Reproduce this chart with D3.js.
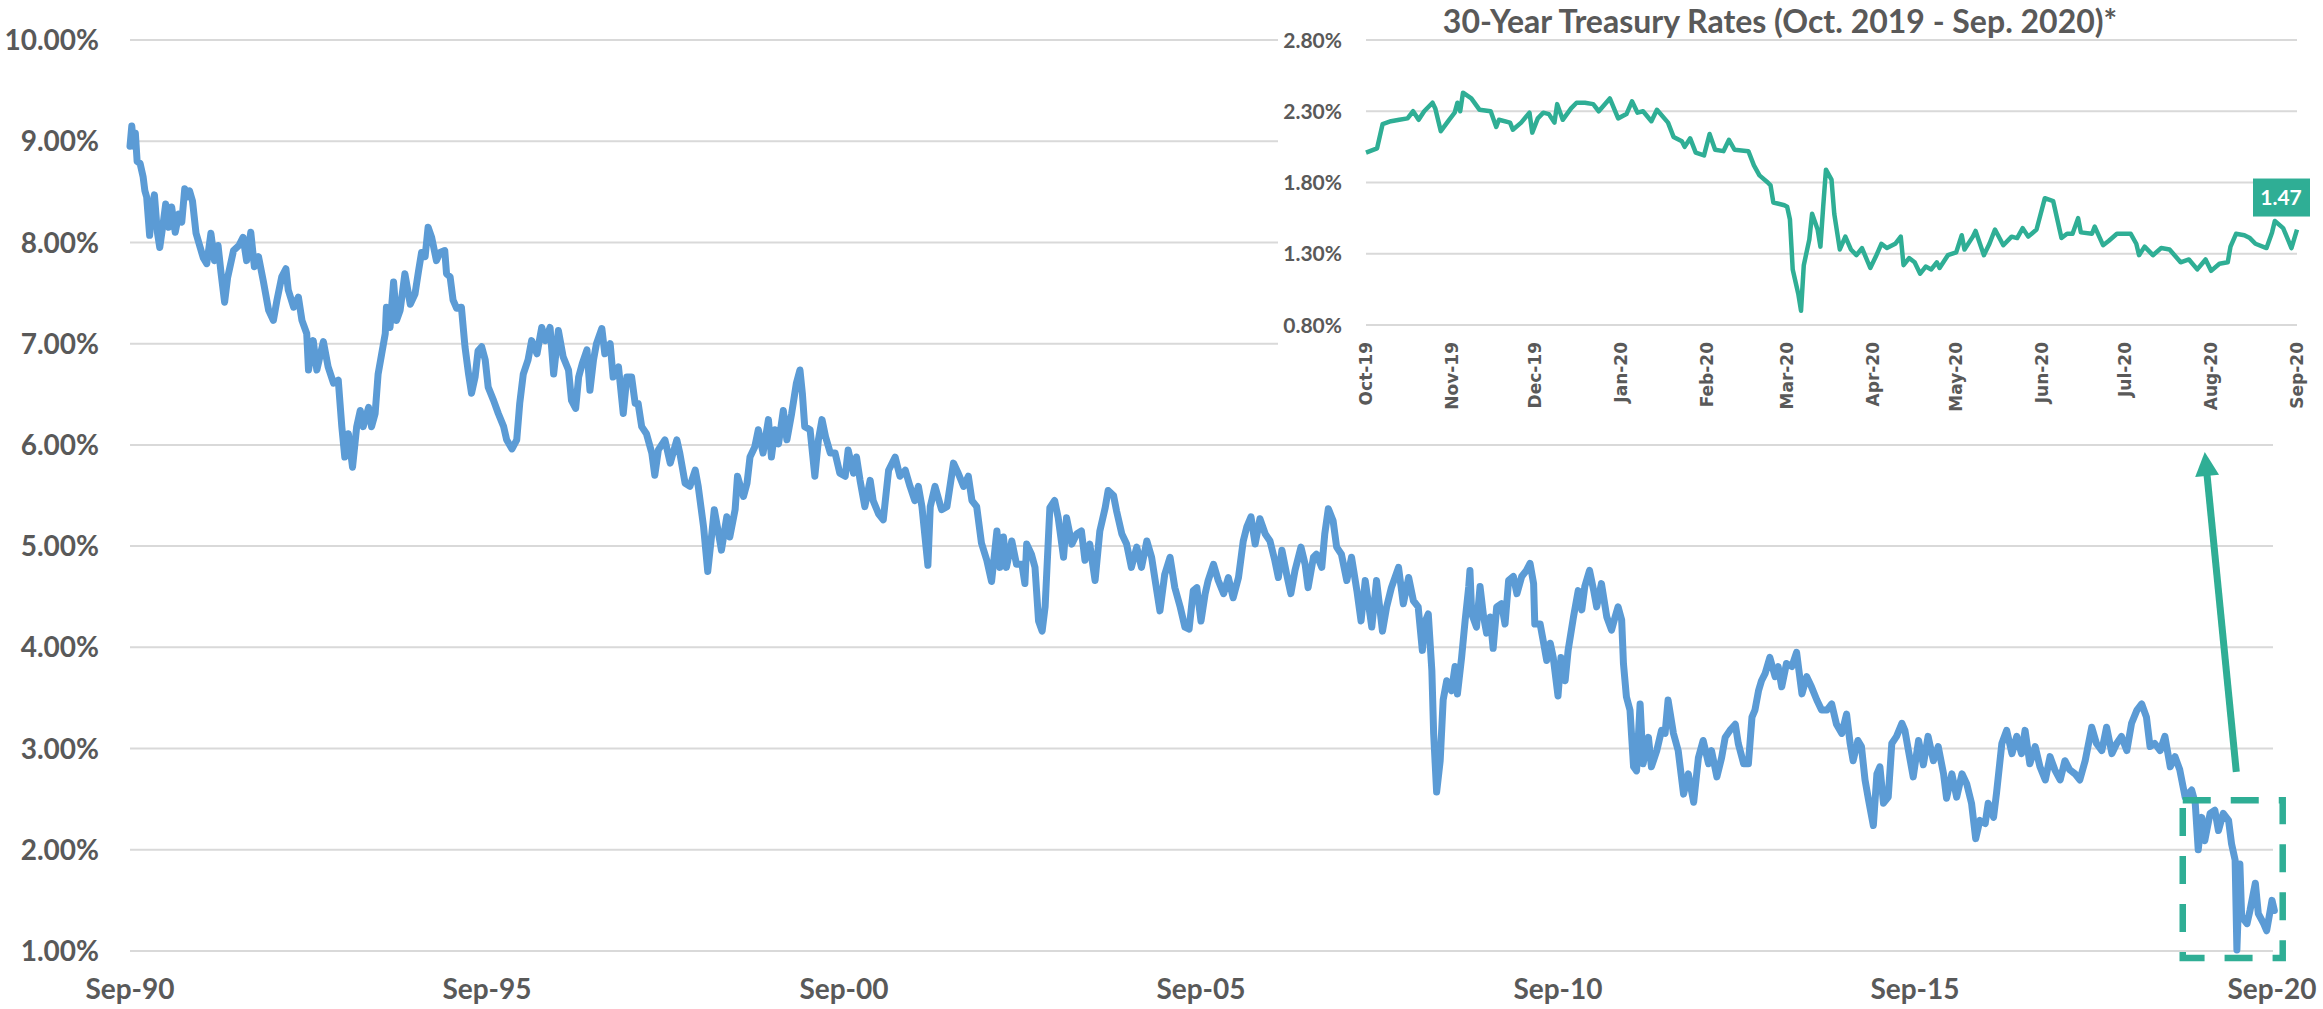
<!DOCTYPE html>
<html>
<head>
<meta charset="utf-8">
<style>
  body { margin: 0; background: #fff; }
  svg { display: block; font-family: Lato, 'Liberation Sans', sans-serif; }
  .lbl { fill: #595959; font-weight: 700; }
  .grid { stroke: #d9d9d9; stroke-width: 2; }
</style>
</head>
<body>
<svg width="2323" height="1009"></svg>

<script src="https://d3js.org/d3.v7.min.js"></script>
<script>
// ---- main chart: 30-year treasury yield, [months since Sep-90, yield %] ----
const yields1990s = [[0,8.95],[0.3,9.15],[0.6,8.95],[0.9,9.08],[1.2,8.80],[1.7,8.78],[2.2,8.65],[2.5,8.51],[2.8,8.45],[3.3,8.07],[3.6,8.30],[4.1,8.47],[4.6,8.10],[5.0,7.95],[5.6,8.20],[6.0,8.38],[6.5,8.15],[7.0,8.35],[7.6,8.10],[8.2,8.28],[8.7,8.20],[9.2,8.53],[9.6,8.45],[10.0,8.51],[10.5,8.41],[11.1,8.09],[11.8,7.95],[12.3,7.85],[12.9,7.79],[13.6,8.09],[14.2,7.82],[14.8,7.97],[15.3,7.70],[15.9,7.41],[16.4,7.65],[17.4,7.92],[18.3,7.97],[19.0,8.05],[19.6,7.82],[20.3,8.10],[20.9,7.76],[21.6,7.86],[22.4,7.62],[23.3,7.33],[24.1,7.23],[24.7,7.43],[25.5,7.66],[26.2,7.74],[26.6,7.53],[27.5,7.36],[28.3,7.46],[28.9,7.23],[29.7,7.10],[30.0,6.74],[30.8,7.03],[31.4,6.74],[32.5,7.02],[33.3,6.77],[34.2,6.61],[35.0,6.64],[35.6,6.18],[36.1,5.88],[36.7,6.11],[37.4,5.78],[38.1,6.18],[38.7,6.34],[39.2,6.18],[40.1,6.37],[40.6,6.18],[41.2,6.31],[41.7,6.70],[42.3,6.90],[42.9,7.10],[43.1,7.36],[43.7,7.16],[44.3,7.61],[44.8,7.23],[45.4,7.33],[46.2,7.69],[47.1,7.39],[47.9,7.49],[48.5,7.72],[49.0,7.90],[49.6,7.86],[50.1,8.15],[50.7,8.05],[51.5,7.82],[52.1,7.90],[52.9,7.92],[53.2,7.69],[53.8,7.66],[54.3,7.43],[54.9,7.35],[55.7,7.36],[56.3,6.97],[56.9,6.70],[57.4,6.51],[58.0,6.67],[58.5,6.93],[59.1,6.97],[59.7,6.84],[60.2,6.57],[61.1,6.44],[61.9,6.31],[62.8,6.18],[63.3,6.05],[64.2,5.96],[65.0,6.05],[65.5,6.41],[66.1,6.70],[66.9,6.84],[67.5,7.03],[68.4,6.90],[69.2,7.16],[69.8,7.03],[70.6,7.16],[71.2,6.70],[72.0,7.13],[72.8,6.87],[73.7,6.74],[74.2,6.44],[74.9,6.36],[75.4,6.67],[76.0,6.80],[76.8,6.94],[77.3,6.54],[77.9,6.84],[78.4,7.00],[79.3,7.15],[79.8,6.90],[80.7,7.00],[81.2,6.67],[82.1,6.77],[82.9,6.31],[83.5,6.67],[84.3,6.67],[84.9,6.41],[85.4,6.41],[86.0,6.18],[86.8,6.11],[87.7,5.92],[88.2,5.70],[88.8,5.95],[89.9,6.05],[90.8,5.82],[91.9,6.05],[92.4,5.92],[93.3,5.62],[94.1,5.59],[95.0,5.75],[95.5,5.59],[96.4,5.19],[97.1,4.75],[97.8,5.13],[98.2,5.36],[98.9,5.13],[99.4,4.96],[100.3,5.29],[100.8,5.09],[101.7,5.36],[102.1,5.69],[103.1,5.49],[103.7,5.62],[104.2,5.88],[105.0,5.98],[105.6,6.15],[106.4,5.92],[107.3,6.25],[107.8,5.88],[108.4,6.15],[109.0,6.01],[109.8,6.34],[110.4,6.05],[111.2,6.31],[112.0,6.61]];

const yields2000s = [[112.6,6.74],[113.0,6.51],[113.4,6.18],[114.3,6.15],[115.1,5.69],[115.7,6.05],[116.3,6.25],[116.9,6.08],[117.7,5.92],[118.5,5.92],[119.3,5.72],[120.2,5.69],[120.7,5.95],[121.6,5.72],[122.1,5.88],[122.7,5.65],[123.5,5.39],[124.4,5.65],[124.9,5.45],[125.8,5.32],[126.6,5.26],[127.5,5.75],[128.6,5.88],[129.4,5.69],[130.3,5.75],[131.1,5.59],[131.9,5.45],[132.5,5.59],[133.1,5.39],[134.1,4.81],[134.5,5.39],[135.3,5.59],[136.4,5.36],[137.3,5.39],[138.4,5.82],[139.2,5.72],[140.1,5.59],[140.9,5.69],[141.5,5.45],[142.3,5.39],[143.1,5.03],[144.0,4.86],[144.8,4.65],[145.7,5.15],[146.2,4.79],[146.8,5.09],[147.3,4.79],[148.2,5.05],[149.0,4.82],[149.9,4.82],[150.4,4.63],[150.7,5.02],[151.5,4.92],[152.1,4.79],[152.7,4.26],[153.3,4.16],[153.8,4.40],[154.6,5.38],[155.4,5.45],[156.0,5.28],[156.9,4.89],[157.4,5.28],[158.3,5.02],[159.1,5.12],[159.9,5.15],[160.5,4.86],[161.3,5.02],[162.2,4.66],[163.0,5.15],[163.9,5.38],[164.4,5.55],[165.3,5.50],[165.8,5.35],[166.7,5.12],[167.5,5.02],[168.3,4.79],[169.2,4.99],[170.0,4.79],[170.9,5.05],[171.7,4.89],[172.3,4.66],[173.1,4.36],[173.9,4.72],[174.8,4.89],[175.6,4.59],[176.5,4.40],[177.3,4.20],[178.0,4.18],[178.7,4.56],[179.3,4.59],[180.0,4.26],[180.7,4.53],[181.2,4.66],[182.1,4.82],[182.9,4.66],[183.8,4.53],[184.6,4.69],[185.4,4.49],[186.3,4.69],[187.1,5.05],[187.7,5.19],[188.4,5.29],[189.1,5.02],[189.9,5.27],[190.8,5.12],[191.6,5.05],[192.4,4.86],[193.0,4.69],[193.6,4.96],[194.4,4.72],[195.1,4.53],[195.8,4.76],[196.8,4.99],[197.5,4.82],[198.0,4.59],[198.9,4.89],[199.4,4.92],[200.3,4.79],[200.8,5.12],[201.4,5.37],[202.2,5.25],[202.8,4.99],[203.6,4.92],[204.5,4.66],[205.3,4.89],[206.2,4.56],[206.9,4.26],[207.6,4.66],[208.7,4.20],[209.5,4.66],[210.5,4.16],[211.2,4.40],[212.0,4.59],[213.2,4.79],[214.0,4.43],[214.9,4.69],[215.7,4.46],[216.5,4.40],[217.2,3.97],[217.7,4.26],[218.2,4.33],[218.8,3.77],[219.1,3.15],[219.6,2.57],[220.2,2.88],[220.7,3.48],[221.3,3.67],[222.1,3.57],[222.7,3.81],[223.1,3.54],[223.8,3.90],[224.4,4.27],[225.0,4.60],[225.2,4.76],[225.5,4.33],[226.3,4.20],[226.9,4.60],[227.5,4.30],[228.0,4.14],[228.6,4.30],[229.1,3.99],[229.7,4.40],[230.5,4.43],[231.1,4.23],[231.7,4.66]];

const yields2010s = [[232.5,4.70],[233.1,4.53],[233.9,4.70],[234.7,4.76],[235.3,4.83],[235.9,4.63],[236.1,4.23],[237.0,4.23],[237.5,4.07],[238.1,3.87],[238.7,4.04],[239.2,3.90],[240.0,3.52],[240.5,3.90],[241.2,3.67],[241.7,3.97],[242.6,4.30],[243.4,4.56],[244.0,4.37],[244.5,4.60],[245.3,4.76],[246.0,4.56],[246.5,4.40],[247.3,4.63],[248.2,4.30],[249.0,4.17],[249.6,4.30],[250.1,4.40],[250.7,4.27],[251.0,3.84],[251.5,3.51],[252.1,3.38],[252.7,2.82],[253.2,2.78],[253.8,3.44],[254.3,2.85],[255.2,3.11],[255.7,2.82],[256.6,2.98],[257.4,3.18],[258.0,3.15],[258.5,3.48],[259.4,3.15],[260.2,2.98],[261.1,2.55],[261.9,2.75],[262.8,2.47],[263.6,2.91],[264.4,3.08],[265.3,2.85],[265.8,2.98],[266.7,2.72],[267.5,2.91],[268.1,3.11],[268.9,3.18],[269.8,3.24],[270.3,3.05],[271.2,2.85],[272.0,2.85],[272.6,3.31],[273.1,3.38],[273.7,3.57],[274.2,3.67],[274.8,3.74],[275.6,3.90],[276.5,3.71],[277.0,3.81],[277.6,3.61],[278.4,3.84],[279.3,3.81],[280.1,3.95],[281.0,3.54],[281.8,3.71],[282.6,3.61],[283.5,3.48],[284.3,3.38],[285.2,3.38],[286.0,3.44],[286.8,3.24],[287.7,3.15],[288.5,3.34],[289.1,3.05],[289.6,2.88],[290.4,3.08],[291.0,3.02],[291.6,2.69],[292.2,2.49],[293.0,2.24],[293.6,2.75],[294.1,2.82],[294.7,2.46],[295.5,2.52],[296.1,3.05],[296.9,3.12],[297.8,3.25],[298.3,3.18],[298.9,2.98],[299.7,2.72],[300.6,3.08],[301.4,2.84],[302.2,3.12],[303.1,2.88],[303.9,3.02],[304.8,2.75],[305.3,2.51],[306.2,2.75],[307.0,2.52],[307.9,2.75],[308.7,2.65],[309.5,2.46],[310.2,2.11],[310.9,2.29],[311.8,2.26],[312.3,2.46],[313.2,2.32],[313.7,2.56],[314.6,3.05],[315.4,3.18],[316.3,2.95],[317.1,3.12],[317.9,2.95],[318.5,3.18],[319.3,2.85],[320.2,3.02],[321.0,2.82],[321.9,2.69],[322.7,2.92],[323.5,2.79],[324.4,2.69],[325.2,2.88],[326.0,2.79],[326.9,2.75],[327.7,2.69],[328.6,2.88],[329.7,3.21],[330.5,3.05],[331.4,2.98],[332.2,3.21],[333.1,2.95],[333.9,3.05],[334.7,3.12],[335.6,2.98],[336.4,3.25],[337.3,3.38],[338.1,3.44],[338.9,3.31],[339.5,3.02],[340.3,3.05],[341.2,2.98],[342.0,3.12],[342.9,2.82],[343.7,2.92],[344.5,2.79],[345.4,2.52],[346.5,2.59],[347.1,2.46],[347.6,2.00],[348.2,2.32],[348.7,2.09],[349.6,2.36],[350.4,2.39],[351.0,2.19],[351.8,2.36],[352.7,2.29],[353.2,2.06],[353.8,1.90],[354.1,1.01],[354.6,1.86],[354.9,1.34],[355.8,1.27],[356.3,1.40],[357.2,1.67],[357.7,1.37],[358.6,1.27],[359.1,1.20],[360.0,1.50],[360.4,1.40]];

const mainYTicks = [1, 2, 3, 4, 5, 6, 7, 8, 9, 10];
const mainXTicks = [0, 60, 120, 180, 240, 300, 360];
const mainXLabels = ["Sep-90", "Sep-95", "Sep-00", "Sep-05", "Sep-10", "Sep-15", "Sep-20"];

// ---- inset: Oct 2019 - Sep 2020 ----
const insetYields = [["2019-10-01",2.01],["2019-10-05",2.04],["2019-10-07",2.21],["2019-10-10",2.23],["2019-10-13",2.24],["2019-10-16",2.25],["2019-10-18",2.30],["2019-10-20",2.24],["2019-10-22",2.30],["2019-10-25",2.36],["2019-10-26",2.32],["2019-10-28",2.16],["2019-10-31",2.24],["2019-11-02",2.29],["2019-11-03",2.36],["2019-11-04",2.30],["2019-11-05",2.43],["2019-11-08",2.39],["2019-11-11",2.31],["2019-11-15",2.30],["2019-11-17",2.19],["2019-11-18",2.24],["2019-11-22",2.22],["2019-11-23",2.17],["2019-11-26",2.22],["2019-11-29",2.29],["2019-11-30",2.15],["2019-12-02",2.25],["2019-12-04",2.29],["2019-12-06",2.28],["2019-12-08",2.22],["2019-12-09",2.35],["2019-12-11",2.24],["2019-12-14",2.32],["2019-12-16",2.36],["2019-12-19",2.36],["2019-12-22",2.35],["2019-12-24",2.30],["2019-12-28",2.39],["2019-12-31",2.25],["2020-01-03",2.28],["2020-01-05",2.37],["2020-01-07",2.29],["2020-01-09",2.30],["2020-01-12",2.23],["2020-01-14",2.31],["2020-01-18",2.22],["2020-01-20",2.12],["2020-01-23",2.09],["2020-01-24",2.05],["2020-01-26",2.11],["2020-01-28",2.01],["2020-01-31",1.99],["2020-02-02",2.14],["2020-02-04",2.03],["2020-02-07",2.02],["2020-02-09",2.10],["2020-02-11",2.03],["2020-02-16",2.02],["2020-02-18",1.92],["2020-02-20",1.85],["2020-02-23",1.80],["2020-02-24",1.78],["2020-02-25",1.66],["2020-02-29",1.64],["2020-03-01",1.63],["2020-03-02",1.54],["2020-03-03",1.19],["2020-03-05",1.02],["2020-03-06",0.90],["2020-03-07",1.22],["2020-03-09",1.40],["2020-03-10",1.58],["2020-03-12",1.47],["2020-03-13",1.35],["2020-03-14",1.63],["2020-03-15",1.89],["2020-03-17",1.82],["2020-03-18",1.58],["2020-03-20",1.33],["2020-03-22",1.42],["2020-03-24",1.33],["2020-03-26",1.29],["2020-03-28",1.34],["2020-03-31",1.20],["2020-04-02",1.28],["2020-04-04",1.37],["2020-04-06",1.34],["2020-04-09",1.37],["2020-04-11",1.42],["2020-04-12",1.22],["2020-04-14",1.27],["2020-04-16",1.24],["2020-04-18",1.16],["2020-04-20",1.21],["2020-04-22",1.19],["2020-04-24",1.24],["2020-04-25",1.20],["2020-04-28",1.29],["2020-05-01",1.31],["2020-05-03",1.43],["2020-05-04",1.33],["2020-05-07",1.42],["2020-05-08",1.46],["2020-05-11",1.29],["2020-05-13",1.37],["2020-05-15",1.47],["2020-05-18",1.36],["2020-05-21",1.42],["2020-05-23",1.41],["2020-05-25",1.48],["2020-05-27",1.42],["2020-05-30",1.47],["2020-06-02",1.69],["2020-06-05",1.67],["2020-06-08",1.41],["2020-06-10",1.44],["2020-06-12",1.44],["2020-06-14",1.55],["2020-06-15",1.45],["2020-06-19",1.44],["2020-06-20",1.49],["2020-06-23",1.36],["2020-06-25",1.39],["2020-06-28",1.44],["2020-07-01",1.44],["2020-07-03",1.44],["2020-07-05",1.37],["2020-07-06",1.29],["2020-07-08",1.35],["2020-07-11",1.29],["2020-07-14",1.34],["2020-07-17",1.33],["2020-07-21",1.24],["2020-07-24",1.26],["2020-07-27",1.19],["2020-07-30",1.26],["2020-08-01",1.18],["2020-08-04",1.23],["2020-08-07",1.24],["2020-08-08",1.35],["2020-08-10",1.44],["2020-08-13",1.43],["2020-08-15",1.41],["2020-08-17",1.37],["2020-08-21",1.34],["2020-08-23",1.45],["2020-08-24",1.53],["2020-08-27",1.48],["2020-08-30",1.34],["2020-09-01",1.47]];

const insetYTicks = [0.8, 1.3, 1.8, 2.3, 2.8];
const insetTitle = "30-Year Treasury Rates (Oct. 2019 - Sep. 2020)*";

// highlighted window on main chart, in data units
const highlightMonths = [345, 361.8];
const highlightYields = [0.93, 2.49];
// arrow from the box up to the inset, [months, yield]
const arrowFrom = [354, 2.77];
const arrowTo = [348.7, 5.93];

const blue = "#5b9bd5";
const teal = "#2fae95";

let svg = d3.select("svg");

let x = d3.scaleLinear().domain([0, 360]).range([130, 2272]);
let y = d3.scaleLinear().domain([1, 10]).range([951, 40]);

// gridlines
svg.append("g")
    .selectAll("line")
    .data(mainYTicks)
    .join("line")
    .attr("class", "grid")
    .attr("x1", 130)
    .attr("x2", 2273)
    .attr("y1", d => y(d))
    .attr("y2", d => y(d));

// y labels
svg.append("g")
    .selectAll("text")
    .data(mainYTicks)
    .join("text")
    .attr("class", "lbl")
    .attr("x", 99)
    .attr("y", d => y(d))
    .attr("dy", "0.36em")
    .attr("text-anchor", "end")
    .style("font-size", "28px")
    .text(d => d3.format(".2f")(d) + "%");

// x labels
svg.append("g")
    .selectAll("text")
    .data(mainXTicks)
    .join("text")
    .attr("class", "lbl")
    .attr("x", d => x(d))
    .attr("y", 999)
    .attr("text-anchor", "middle")
    .style("font-size", "28px")
    .text((d, i) => mainXLabels[i]);

let mainData = yields1990s.concat(yields2000s, yields2010s);

let line = d3.line()
    .x(d => x(d[0]))
    .y(d => y(d[1]));

svg.append("path")
    .datum(mainData)
    .attr("d", line)
    .style("fill", "none")
    .style("stroke", blue)
    .style("stroke-width", 7)
    .style("stroke-linejoin", "round")
    .style("stroke-linecap", "round");

// ---- inset ----
let parse = d3.timeParse("%Y-%m-%d");
let insetData = insetYields.map(d => [parse(d[0]), d[1]]);

let xi = d3.scaleTime()
    .domain([parse("2019-10-01"), parse("2020-09-01")])
    .range([1366, 2297]);
let yi = d3.scaleLinear().domain([0.8, 2.8]).range([325, 40]);

let inset = svg.append("g");

inset.append("rect")
    .attr("x", 1278)
    .attr("y", 0)
    .attr("width", 1045)
    .attr("height", 430)
    .style("fill", "#fff");

inset.append("g")
    .selectAll("line")
    .data(insetYTicks)
    .join("line")
    .attr("class", "grid")
    .attr("x1", 1366)
    .attr("x2", 2297)
    .attr("y1", d => yi(d))
    .attr("y2", d => yi(d));

inset.append("g")
    .selectAll("text")
    .data(insetYTicks)
    .join("text")
    .attr("class", "lbl")
    .attr("x", 1342)
    .attr("y", d => yi(d))
    .attr("dy", "0.36em")
    .attr("text-anchor", "end")
    .style("font-size", "21px")
    .text(d => d3.format(".2f")(d) + "%");

let months = d3.timeMonth.range(parse("2019-10-01"), parse("2020-09-02"));

inset.append("g")
    .selectAll("text")
    .data(months)
    .join("text")
    .attr("class", "lbl")
    .attr("transform", d => "translate(" + xi(d) + ",342) rotate(-90)")
    .attr("dy", "0.36em")
    .attr("text-anchor", "end")
    .style("font-family", "'DejaVu Sans', sans-serif")
    .style("font-size", "17px")
    .text(d => d3.timeFormat("%b-%y")(d));

inset.append("text")
    .attr("class", "lbl")
    .attr("x", 1780)
    .attr("y", 33)
    .attr("text-anchor", "middle")
    .style("font-size", "32px")
    .text(insetTitle);

inset.append("path")
    .datum(insetData)
    .attr("d", d3.line().x(d => xi(d[0])).y(d => yi(d[1])))
    .style("fill", "none")
    .style("stroke", teal)
    .style("stroke-width", 4.5)
    .style("stroke-linejoin", "round");

// last value badge
let last = insetData[insetData.length - 1];
let bx = xi(last[0]) - 16;
let by = yi(last[1]) - 32;
inset.append("rect")
    .attr("x", bx - 28)
    .attr("y", by - 19)
    .attr("width", 57)
    .attr("height", 38)
    .style("fill", teal);
inset.append("text")
    .attr("x", bx)
    .attr("y", by)
    .attr("dy", "0.36em")
    .attr("text-anchor", "middle")
    .style("fill", "#fff")
    .style("font-weight", 700)
    .style("font-size", "21px")
    .text(d3.format(".2f")(last[1]));

// ---- highlight box + arrow ----
let hx0 = x(highlightMonths[0]), hx1 = x(highlightMonths[1]);
let hy0 = y(highlightYields[1]), hy1 = y(highlightYields[0]);
svg.append("path")
    .attr("d", `M${hx0},${hy0}H${hx1}V${hy1}H${hx0}Z`)
    .style("fill", "none")
    .style("stroke", teal)
    .style("stroke-width", 6.5)
    .style("stroke-dasharray", "28,20");

let ax0 = x(arrowFrom[0]), ay0 = y(arrowFrom[1]);
let ax1 = x(arrowTo[0]), ay1 = y(arrowTo[1]);
let len = Math.hypot(ax1 - ax0, ay1 - ay0);
let ux = (ax1 - ax0) / len, uy = (ay1 - ay0) / len;
let headLen = 24, headW = 12;
svg.append("line")
    .attr("x1", ax0)
    .attr("y1", ay0)
    .attr("x2", ax1 - ux * (headLen - 2))
    .attr("y2", ay1 - uy * (headLen - 2))
    .style("stroke", teal)
    .style("stroke-width", 7);
svg.append("path")
    .attr("d", `M${ax1},${ay1}L${ax1 - ux * headLen - uy * headW},${ay1 - uy * headLen + ux * headW}L${ax1 - ux * headLen + uy * headW},${ay1 - uy * headLen - ux * headW}Z`)
    .style("fill", teal);
</script>
</body>
</html>
